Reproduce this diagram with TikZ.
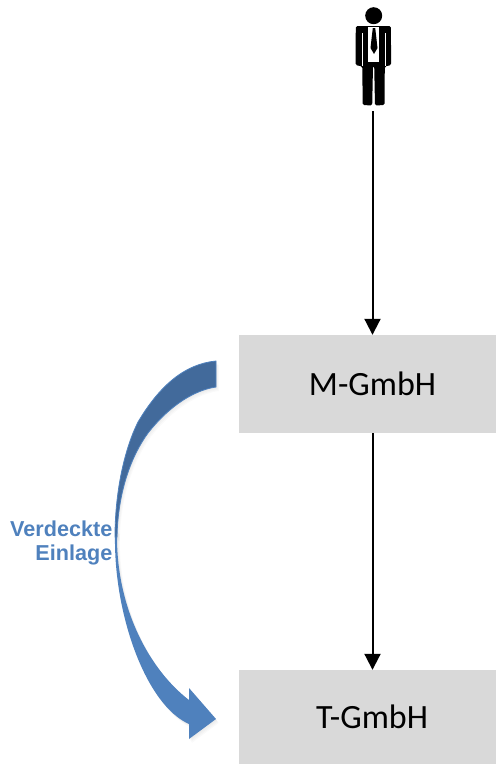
\documentclass[tikz,border=0pt]{standalone}
\usepackage{fontspec}
\setmainfont{Carlito}
\newfontfamily\labelfont{Liberation Sans}
\usetikzlibrary{arrows.meta}
\definecolor{boxgray}{HTML}{D9D9D9}
\definecolor{curveblue}{HTML}{4F81BD}
\definecolor{curvedark}{HTML}{426A9B}
\newcommand{\lowerband}{(115,530) -- (115,537) .. controls (114,615) and (146,705) .. (189,724) -- (189,739) -- (216,719) -- (189,688) -- (189,700) .. controls (150,670) and (117,610) .. (117,537) -- (117,530) -- cycle}
\newcommand{\upperband}{(216,361) .. controls (185,364) and (160,385) .. (138,422) .. controls (125,448) and (115,490) .. (115,537) -- (117,537) .. controls (118,490) and (132,455) .. (148,433) .. controls (170,405) and (195,390) .. (216,387) -- cycle}
\tikzset{
  company/.style={fill=boxgray,minimum width=257pt,inner sep=0pt,font=\fontsize{34}{40}\selectfont,text=black},
  flow/.style={draw=black,line width=2pt,-{Triangle[length=16pt,width=16pt]}},
  curvelabel/.style={font=\labelfont\bfseries\fontsize{21.6}{24}\selectfont,text=curveblue,align=right,inner sep=0pt},
  fadeshadow/.style={fill=black,opacity=0.02,draw=none}
}
\begin{document}
\begin{tikzpicture}[x=1pt,y=-1pt]
\useasboundingbox (0,0) rectangle (496,764);
% boxes
\node[company,minimum height=98pt] (m) at (367.5,384) {\hspace*{10pt}M-GmbH};
\node[company,minimum height=94pt] (t) at (367.5,717) {\hspace*{9pt}\raisebox{-2pt}{T-GmbH}};
% person
\node[minimum width=36pt,minimum height=106pt,inner sep=0pt] (person) at (372.5,58) {};
\fill[black] (373.7,15.7) circle (8.5);
\fill[black,rounded corners=1.5pt] (355.8,26) -- (390.8,26) -- (391.2,65) -- (384.8,66.5) -- (384.5,105) -- (375,105.5) -- (374.2,66) -- (373,66) -- (372.2,105.5) -- (362.7,105) -- (362.3,66.5) -- (355.5,65) -- cycle;
\fill[white] (368.3,27) -- (379,27) -- (379,61.5) -- (368.3,61.5) -- cycle;
\fill[black] (372.8,28) -- (375.2,28) -- (375.8,33) -- (377.5,48) -- (374,54) -- (370.5,48) -- (372.2,33) -- cycle;
\draw[white,line width=0.9pt] (362.3,33) -- (362.3,66);
\draw[white,line width=0.9pt] (385.1,33) -- (385.1,66);
% curved arrow
\foreach \d in {1,2,3,4}{
  \begin{scope}[shift={(\d*0.7,\d*1)}]
    \path[fadeshadow] \lowerband;
    \path[fadeshadow] \upperband;
  \end{scope}
}
\fill[curveblue] \lowerband;
\fill[curvedark,draw=curveblue,line width=0.8pt] \upperband;
% label
\node[curvelabel,anchor=north east] (lbl) at (112.5,520.5) {Verdeckte\\Einlage};
% connectors
\draw[flow] (person.south) -- (person.south |- m.north);
\draw[flow] (person.south |- m.south) -- (person.south |- t.north);
\end{tikzpicture}
\end{document}
